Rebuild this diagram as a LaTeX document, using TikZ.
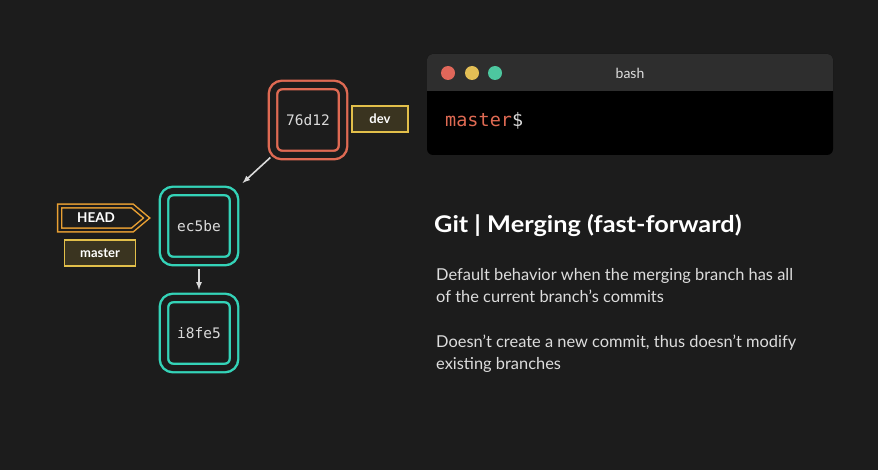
\documentclass[tikz,border=0pt]{standalone}
\usepackage{fontspec}
\setmainfont{Lato}
\setmonofont{DejaVu Sans Mono}
\newfontfamily\titlefont{Lato}[FakeStretch=1.1]
\usetikzlibrary{positioning,shapes.symbols}

\definecolor{bgdark}{HTML}{1C1C1C}
\definecolor{termbar}{HTML}{2E2E2E}
\definecolor{commitred}{HTML}{DF6A53}
\definecolor{committeal}{HTML}{34D3B8}
\definecolor{tagline}{HTML}{E2BF4A}
\definecolor{tagfill}{HTML}{3A3420}
\definecolor{headline}{HTML}{E9A033}
\definecolor{linkgray}{HTML}{DADADA}
\definecolor{bodytext}{HTML}{DDDDDD}
\definecolor{dotred}{HTML}{E0675A}
\definecolor{dotyellow}{HTML}{E3BE55}
\definecolor{dotgreen}{HTML}{4DC79F}

\tikzset{
	commit/.style={draw=#1, double=bgdark, double distance=6pt, line width=2.4pt, rounded corners=9pt, fill=bgdark, minimum size=70pt, inner sep=0pt, text=linkgray, font=\ttfamily\fontsize{14.5}{16}\selectfont},
	branchtag/.style={draw=tagline, fill=tagfill, line width=1.5pt, minimum height=26pt, inner sep=0pt, text=white, font=\bfseries\fontsize{13}{15}\selectfont},
	headtag/.style={signal, signal to=east, signal pointer angle=80, draw=headline, double=bgdark, double distance=2.4pt, line width=1.5pt, fill=bgdark, minimum width=87pt, minimum height=24pt, inner sep=0pt, text=white, font=\bfseries\fontsize{13.5}{15}\selectfont},
	link/.style={draw=linkgray, line width=1.6pt, -latex},
	para/.style={anchor=north west, align=left, inner sep=0pt, text=bodytext, font=\fontsize{16.4}{22}\selectfont}
}

\begin{document}
\begin{tikzpicture}[x=1pt, y=-1pt]
	\fill[bgdark](0,0)rectangle(878,470);
	\useasboundingbox(0,0)rectangle(878,470);

	% terminal window
	\fill[black, rounded corners=6](427,54)rectangle(833,155);
	\fill[termbar](427,91)[rounded corners=6]--(427,54)--(833,54)[sharp corners]--(833,91)--cycle;
	\foreach \dx/\dc in {448/dotred,472/dotyellow,495/dotgreen}{
		\fill[\dc](\dx,73)circle(7);
	}
	\node[text=linkgray!90, font=\fontsize{14}{16}\selectfont](bash) at (630,73) {bash};
	\node[anchor=west, inner sep=0pt, font=\ttfamily\fontsize{18.5}{20}\selectfont](prompt) at (445,121) {\textcolor{commitred}{master}\textcolor{linkgray}{\$}};

	% commits
	\node[commit=commitred](c76) at (308,120) {76d12};
	\node[commit=committeal](cec) at (199,226) {ec5be};
	\node[commit=committeal](ci8) at (199,333) {i8fe5};
	\node[branchtag, minimum width=56pt](dev) at (380,119) {dev};
	\node[branchtag, minimum width=71pt](master) at (100,253) {master};
	\node[headtag](head) at (96,218) {HEAD};

	\draw[link, shorten <=2pt, shorten >=10pt](c76.south west)--(cec.north east);
	\draw[link, shorten <=7pt, shorten >=7pt](cec.south)--(ci8.north);

	% description
	\node[anchor=base west, inner sep=0pt, text=white, font=\titlefont\bfseries\fontsize{23}{26}\selectfont](title) at (434,233) {Git | Merging (fast-forward)};
	\node[para](para1) at (436,268) {Default behavior when the merging branch has all\\of the current branch’s commits};
	\node[para](para2) at (436,335) {Doesn’t create a new commit, thus doesn’t modify\\existing branches};
\end{tikzpicture}
\end{document}
